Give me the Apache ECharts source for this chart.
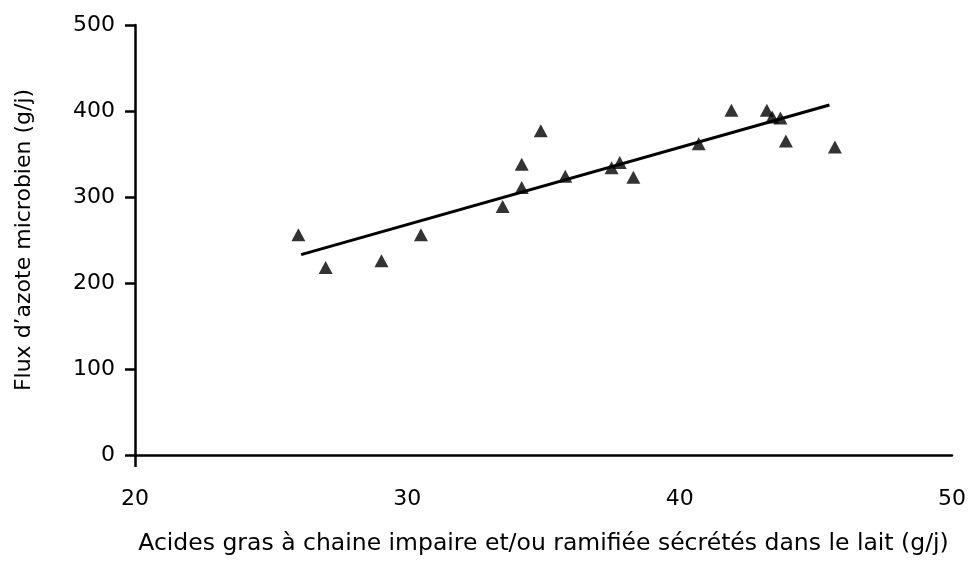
<!DOCTYPE html>
<html>
<head>
<meta charset="utf-8">
<script src="https://cdn.jsdelivr.net/npm/echarts@6/dist/echarts.min.js"></script>
<style>
  html, body { margin: 0; padding: 0; background: #fff; }
  #chart { width: 969px; height: 561px; }
</style>
</head>
<body>
<div id="chart"></div>
<script>
// acides gras (g/j) et flux d'azote microbien (g/j)
const xVals = [26.0, 27.0, 29.05, 30.5, 33.5, 34.2, 34.2, 34.9, 35.8, 37.5, 37.8, 38.3, 40.7, 41.9, 43.2, 43.4, 43.7, 43.9, 45.7]
const yVals = [256, 218, 226, 256, 289, 311, 338, 377, 324, 334, 340, 323, 362, 401, 401, 393, 392, 365, 358]
// droite de regression
const fitX = [26.1, 45.5]
const fitY = [233, 407]
const xTicks = [20, 30, 40, 50]

const chart = echarts.init(document.getElementById('chart'))
const font = '"DejaVu Sans", sans-serif'

const option = {
    animation: false,
    backgroundColor: '#fff',
    grid: {
        left: 135,
        right: 12,
        top: 25,
        bottom: 102
    },
    xAxis: {
        type: 'value',
        min: xTicks[0],
        max: xTicks[xTicks.length - 1],
        interval: 10,
        name: 'Acides gras à chaine impaire et/ou ramifiée sécrétés dans le lait (g/j)',
        nameLocation: 'middle',
        nameGap: 77,
        nameTextStyle: { color: '#000', fontFamily: font, fontSize: 23.5 },
        splitLine: { show: false },
        axisLine: { show: true, lineStyle: { color: '#000', width: 2.5 } },
        axisTick: {
            show: true,
            customValues: [20],
            length: 12,
            lineStyle: { color: '#000', width: 2.5 }
        },
        axisLabel: {
            color: '#000',
            fontFamily: font,
            fontSize: 22,
            margin: 33
        }
    },
    yAxis: {
        type: 'value',
        min: 0,
        max: 500,
        interval: 100,
        name: 'Flux d\u2019azote microbien (g/j)',
        nameLocation: 'middle',
        nameGap: 100,
        nameTextStyle: { color: '#000', fontFamily: font, fontSize: 22 },
        splitLine: { show: false },
        axisLine: { show: true, lineStyle: { color: '#000', width: 2.5 } },
        axisTick: { show: true, length: 10, lineStyle: { color: '#000', width: 2.5 } },
        axisLabel: {
            color: '#000',
            fontFamily: font,
            fontSize: 22,
            margin: 20
        }
    },
    series: [
        {
            type: 'line',
            data: fitX.map((x, i) => [x, fitY[i]]),
            symbol: 'none',
            lineStyle: { color: '#000', width: 3 },
            z: 2
        },
        {
            type: 'scatter',
            data: xVals.map((x, i) => [x, yVals[i]]),
            symbol: 'triangle',
            symbolSize: [14, 13],
            itemStyle: { color: '#000' },
            z: 3
        }
    ]
}
chart.setOption(option)
</script>
</body>
</html>
